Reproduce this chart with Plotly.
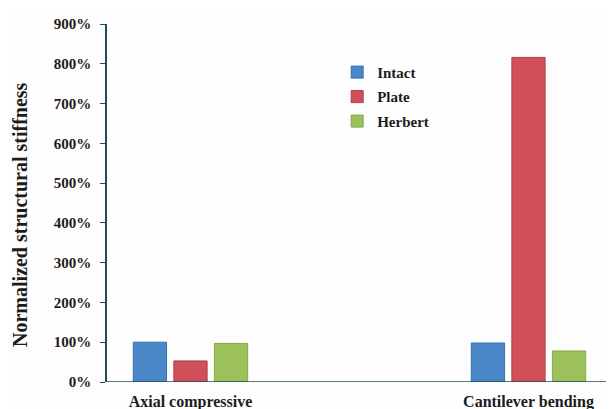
import plotly.graph_objects as go

categories = ["Axial compressive", "Cantilever bending"]
series_names = ["Intact", "Plate", "Herbert"]
intact = [100, 98]
plate = [53, 816]
herbert = [97, 78]
y_ticks = [0, 100, 200, 300, 400, 500, 600, 700, 800, 900]
y_tick_labels = [f"{v}%" for v in y_ticks]
y_title = "Normalized structural stiffness"

colors = ["#4a87c8", "#d0505a", "#9cc15a"]
edges = ["#3a70aa", "#b23e47", "#84a848"]
values = [intact, plate, herbert]

x_pos = list(range(len(categories)))
font_family = "Liberation Serif"
text_color = "#1c1c1c"

fig = go.Figure()
for i, name in enumerate(series_names):
    fig.add_trace(go.Bar(
        x=x_pos, y=values[i], name=name, legendgroup=name,
        marker=dict(color=colors[i], line=dict(color=edges[i], width=1)),
    ))

fig.update_layout(
    width=606, height=401,
    margin=dict(l=99, r=0, t=16, b=27),
    paper_bgcolor="#fdfdfd", plot_bgcolor="#fdfdfd",
    barmode="group", bargap=0.64, bargroupgap=0.18,
    font=dict(family=font_family, color=text_color, size=14),
    showlegend=True,
    legend=dict(
        x=0.454, y=0.911, xanchor="left", yanchor="top",
        bgcolor="rgba(0,0,0,0)", tracegroupgap=2,
        font=dict(family=font_family, size=15, color=text_color, weight="bold"),
    ),
    xaxis=dict(
        range=[-0.247, 1.253], tickvals=x_pos, ticktext=categories,
        showgrid=False, zeroline=False, showline=False, ticks="",
        tickfont=dict(family=font_family, size=16, color=text_color, weight="bold"),
        ticklabelstandoff=8, automargin=False,
    ),
    yaxis=dict(
        range=[0, 900], tickvals=y_ticks, ticktext=y_tick_labels,
        showgrid=False, zeroline=False,
        showline=True, linecolor="#1f4b5a", linewidth=1.5,
        ticks="outside", ticklen=5, tickcolor="#1f4b5a",
        tickfont=dict(family=font_family, size=15, color=text_color, weight="bold"),
        ticklabelstandoff=6, automargin=False,
    ),
    annotations=[dict(
        text=y_title, textangle=-90, showarrow=False,
        xref="paper", yref="paper", x=0, y=0.5, xanchor="center", yanchor="middle",
        xshift=-87, yshift=-12,
        font=dict(family=font_family, size=20, color=text_color, weight="bold"),
    )],
    shapes=[dict(type="line", xref="paper", yref="y", x0=0, x1=1, y0=0, y1=0,
                 line=dict(color="#1f4b5a", width=1.5))],
)

fig.write_html("out.html")
